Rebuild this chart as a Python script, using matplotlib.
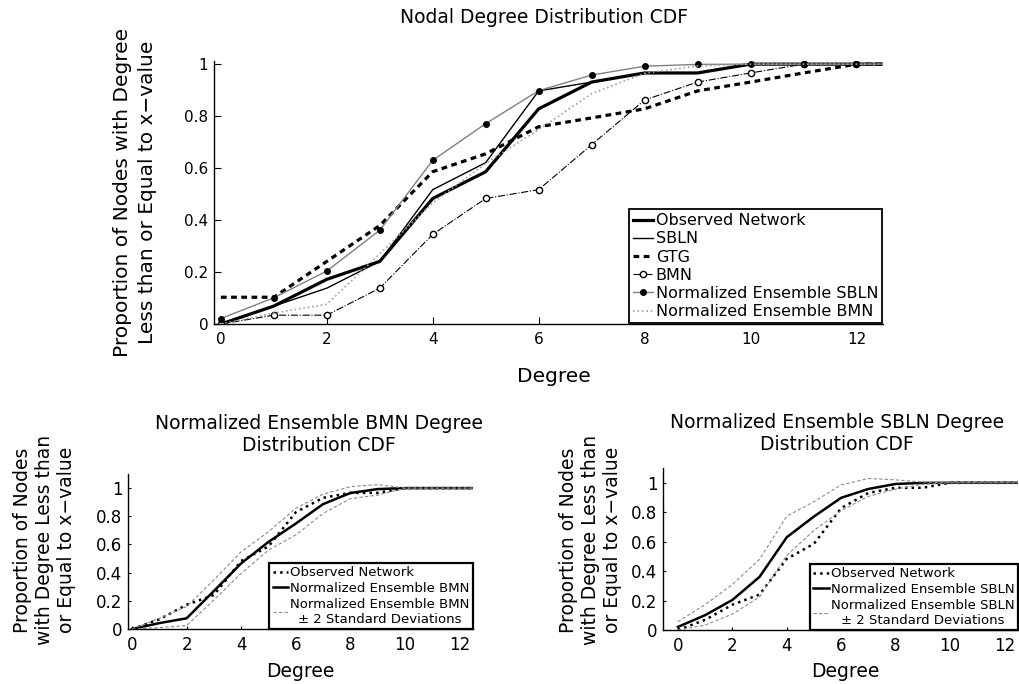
import numpy as np
import matplotlib
matplotlib.use('Agg')
import matplotlib.pyplot as plt
from matplotlib.ticker import FixedLocator, FixedFormatter

plt.rcParams['font.family'] = 'DejaVu Sans'

# Дані
degree = [0, 1, 2, 3, 4, 5, 6, 7, 8, 9, 10, 11, 12, 13]
observed = [0, 0.069, 0.172, 0.241, 0.483, 0.586, 0.828, 0.931, 0.966, 0.966, 1, 1, 1, 1]
sbln = [0, 0.069, 0.138, 0.241, 0.517, 0.621, 0.897, 0.931, 0.966, 0.966, 1, 1, 1, 1]
gtg = [0.103, 0.103, 0.241, 0.379, 0.586, 0.655, 0.759, 0.793, 0.828, 0.897, 0.931, 0.966, 1, 1]
bmn = [0, 0.034, 0.034, 0.138, 0.345, 0.483, 0.517, 0.690, 0.862, 0.931, 0.966, 1, 1, 1]
ens_sbln = [0.021, 0.101, 0.204, 0.361, 0.630, 0.771, 0.898, 0.958, 0.992, 0.999, 1, 1, 1, 1]
ens_bmn = [0, 0.042, 0.076, 0.270, 0.466, 0.618, 0.748, 0.886, 0.965, 0.993, 1, 1, 1, 1]

ens_bmn_upper = [0, 0.076, 0.160, 0.348, 0.548, 0.690, 0.856, 0.957, 1.010, 1.025, 1, 1, 1, 1]
ens_bmn_lower = [0, 0.010, 0.024, 0.206, 0.395, 0.560, 0.667, 0.820, 0.925, 0.950, 1, 1, 1, 1]
ens_sbln_upper = [0.056, 0.173, 0.309, 0.480, 0.773, 0.872, 0.986, 1.029, 1.020, 1.005, 1, 1, 1, 1]
ens_sbln_lower = [0, 0.034, 0.108, 0.225, 0.507, 0.676, 0.811, 0.908, 0.957, 0.990, 1, 1, 1, 1]

x_ticks = [0, 2, 4, 6, 8, 10, 12]
y_ticks = [0, 0.2, 0.4, 0.6, 0.8, 1]
y_tick_labels = ['0', '0.2', '0.4', '0.6', '0.8', '1']


def style_axes(ax, tick_len, tick_size):
    for s in ['top', 'right']:
        ax.spines[s].set_visible(False)
    for s in ['left', 'bottom']:
        ax.spines[s].set_linewidth(1.0)
    ax.xaxis.set_major_locator(FixedLocator(x_ticks))
    ax.yaxis.set_major_locator(FixedLocator(y_ticks))
    ax.yaxis.set_major_formatter(FixedFormatter(y_tick_labels))
    ax.tick_params(direction='in', length=tick_len, width=0.8, labelsize=tick_size)
    ax.tick_params(axis='x', pad=5)
    ax.tick_params(axis='y', pad=4)


fig = plt.figure(figsize=(10.19, 6.84), dpi=100)

# --- Верхній графік ---
ax = fig.add_axes([0.210, 0.5263, 0.6565, 0.3845])
ax.plot(degree, observed, color='black', lw=2.3, label='Observed Network')
ax.plot(degree, sbln, color='black', lw=1.0, label='SBLN')
ax.plot(degree, gtg, color='black', lw=2.3, linestyle=(0, (1.8, 1.4)), label='GTG')
ax.plot(degree, bmn, color='black', lw=0.8, linestyle='-.', marker='o', markersize=4.5,
        markerfacecolor='white', markeredgewidth=1.0, label='BMN')
ax.plot(degree, ens_sbln, color='#808080', lw=1.0, marker='o', markersize=4,
        markerfacecolor='black', markeredgecolor='black', label='Normalized Ensemble SBLN')
ax.plot(degree, ens_bmn, color='#a0a0a0', lw=1.2, linestyle=':', label='Normalized Ensemble BMN')
ax.set_xlim(-0.13, 12.5)
ax.set_ylim(0, 1.012)
style_axes(ax, 5, 11)
ax.tick_params(axis='x', pad=6)
leg = ax.legend(loc='lower right', fontsize=11.5, frameon=True, fancybox=False, framealpha=1,
                borderaxespad=0.05, labelspacing=0.2, handlelength=1.3, handletextpad=0.15,
                borderpad=0.25, numpoints=1)
leg.get_frame().set_edgecolor('black')
leg.get_frame().set_linewidth(1.3)
ax.text(0.493, 1.167, 'Nodal Degree Distribution CDF', transform=ax.transAxes,
        ha='center', va='center', fontsize=13.5)
ax.text(0.508, -0.198, 'Degree', transform=ax.transAxes, ha='center', va='center', fontsize=14.5)
ax.text(-0.118, 0.5, 'Proportion of Nodes with Degree\nLess than or Equal to x\u2212value',
        transform=ax.transAxes, ha='center', va='center', rotation=90, fontsize=14.5,
        multialignment='center', linespacing=1.35)

# --- Нижні графіки ---
panels = [
    ([0.1256, 0.0804, 0.3386, 0.2266], (-0.15, 12.5), ens_bmn, ens_bmn_upper, ens_bmn_lower, 'BMN',
     (0.554, 1.255), (0.499, -0.277), (-0.241, 0.574)),
    ([0.6506, 0.0789, 0.3484, 0.2368], (-0.55, 12.5), ens_sbln, ens_sbln_upper, ens_sbln_lower, 'SBLN',
     (0.49, 1.213), (0.513, -0.259), (-0.203, 0.556)),
]

for rect, xlim, mean, upper, lower, name, tpos, xpos, ypos in panels:
    ax = fig.add_axes(rect)
    ax.plot(degree, observed, color='black', lw=1.8, linestyle=':', label='Observed Network')
    ax.plot(degree, mean, color='black', lw=1.8, label='Normalized Ensemble ' + name)
    ax.plot(degree, upper, color='#8a8a8a', lw=0.8, linestyle=(0, (3, 2)),
            label='Normalized Ensemble ' + name + '\n\u00b1 2 Standard Deviations')
    ax.plot(degree, lower, color='#8a8a8a', lw=0.8, linestyle=(0, (3, 2)))
    ax.set_xlim(*xlim)
    ax.set_ylim(0, 1.1)
    style_axes(ax, 2.5, 12)
    leg = ax.legend(loc='lower right', fontsize=9.5, frameon=True, fancybox=False, framealpha=1,
                    borderaxespad=0.0, labelspacing=0.2, handlelength=1.2, handletextpad=0.15,
                    borderpad=0.25)
    leg.get_frame().set_edgecolor('black')
    leg.get_frame().set_linewidth(1.6)
    for t in leg.get_texts():
        t.set_multialignment('center')
    ax.text(tpos[0], tpos[1], 'Normalized Ensemble ' + name + ' Degree\nDistribution CDF',
            transform=ax.transAxes, ha='center', va='center', fontsize=13.5, linespacing=1.15)
    ax.text(xpos[0], xpos[1], 'Degree', transform=ax.transAxes, ha='center', va='center', fontsize=13.5)
    ax.text(ypos[0], ypos[1], 'Proportion of Nodes\nwith Degree Less than\nor Equal to x\u2212value',
            transform=ax.transAxes, ha='center', va='center', rotation=90, fontsize=13.5,
            multialignment='center', linespacing=1.2)

plt.savefig('out.png', dpi=100)
